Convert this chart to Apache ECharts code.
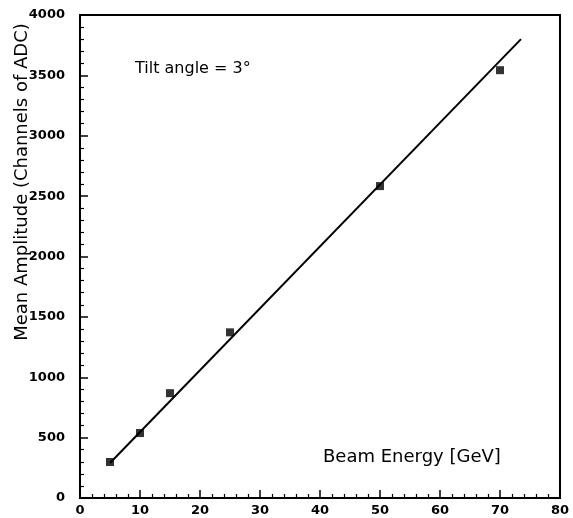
<!DOCTYPE html>
<html>
<head>
<meta charset="utf-8">
<title>Mean Amplitude vs Beam Energy</title>
<script src="https://cdn.jsdelivr.net/npm/echarts@6/dist/echarts.min.js"></script>
<style>
  html, body { margin: 0; padding: 0; background: #fff; }
  #chart { width: 573px; height: 518px; }
</style>
</head>
<body>
<div id="chart"></div>
<script>
// Measured mean amplitudes at each beam energy
const beamEnergy = [5, 10, 15, 25, 50, 70];
const meanAmplitude = [298, 538, 868, 1372, 2583, 3543];

// Linear fit drawn across the measured range
const fitEnergy = [5, 73.5];
const fitAmplitude = [290, 3800];

const xTicks = [0, 10, 20, 30, 40, 50, 60, 70, 80];
const yTicks = [0, 500, 1000, 1500, 2000, 2500, 3000, 3500, 4000];

const font = 'DejaVu Sans';
const chart = echarts.init(document.getElementById('chart'), null, { renderer: 'canvas' });

chart.setOption({
  backgroundColor: '#ffffff',
  animation: false,
  grid: {
    left: 80, right: 13, top: 15, bottom: 20,
    outerBoundsMode: 'none',
    containLabel: false,
    show: true, borderColor: '#000', borderWidth: 2, backgroundColor: 'transparent'
  },
  xAxis: {
    type: 'value',
    min: xTicks[0], max: xTicks[xTicks.length - 1], interval: 10,
    axisLine: { show: true, lineStyle: { color: '#000', width: 2 } },
    axisTick: { show: true, inside: true, length: 8, lineStyle: { color: '#000', width: 1.5 } },
    minorTick: { show: true, splitNumber: 5, length: 4, lineStyle: { color: '#000', width: 1.2 } },
    splitLine: { show: false },
    axisLabel: {
      color: '#000', fontFamily: font, fontSize: 13, fontWeight: 'bold', margin: 6,
      formatter: v => String(v)
    }
  },
  yAxis: {
    type: 'value',
    min: yTicks[0], max: yTicks[yTicks.length - 1], interval: 500,
    axisLine: { show: true, lineStyle: { color: '#000', width: 2 } },
    axisTick: { show: true, inside: true, length: 8, lineStyle: { color: '#000', width: 1.5 } },
    minorTick: { show: true, splitNumber: 5, length: 4, lineStyle: { color: '#000', width: 1.2 } },
    splitLine: { show: false },
    axisLabel: {
      color: '#000', fontFamily: font, fontSize: 13, fontWeight: 'bold', margin: 15,
      formatter: v => String(v)
    }
  },
  graphic: [
    {
      type: 'text', x: 22, y: 182, rotation: Math.PI / 2,
      style: {
        text: 'Mean Amplitude (Channels of ADC)', fill: '#000',
        font: '18px "DejaVu Sans"', align: 'center', verticalAlign: 'middle'
      }
    },
    {
      type: 'text', x: 135, y: 69,
      style: {
        text: 'Tilt angle = 3°', fill: '#000',
        font: '16px "DejaVu Sans"', align: 'left', verticalAlign: 'middle'
      }
    },
    {
      type: 'text', x: 323, y: 457,
      style: {
        text: 'Beam Energy [GeV]', fill: '#000',
        font: '18px "DejaVu Sans"', align: 'left', verticalAlign: 'middle'
      }
    }
  ],
  series: [
    {
      type: 'line',
      data: fitEnergy.map((x, i) => [x, fitAmplitude[i]]),
      symbol: 'none',
      lineStyle: { color: '#000', width: 2 },
      z: 2
    },
    {
      type: 'scatter',
      data: beamEnergy.map((x, i) => [x, meanAmplitude[i]]),
      symbol: 'rect', symbolSize: 8,
      itemStyle: { color: '#000' },
      z: 3
    }
  ]
});
</script>
</body>
</html>
